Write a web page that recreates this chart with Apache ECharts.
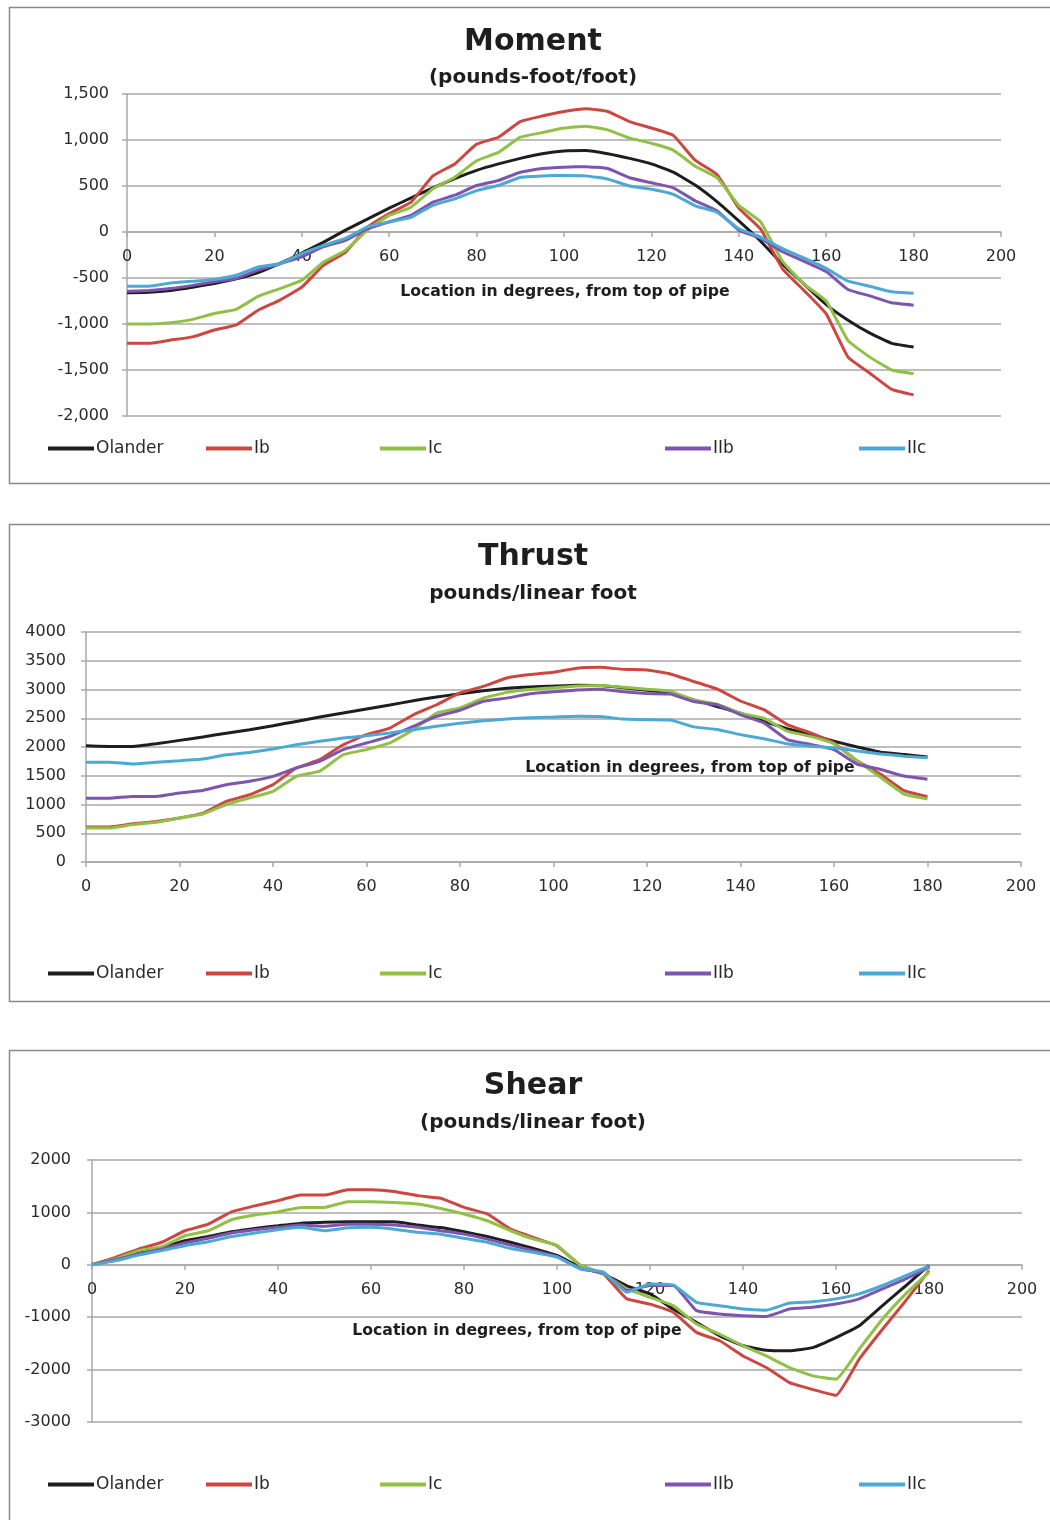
<!DOCTYPE html>
<html>
<head>
<meta charset="utf-8">
<script src="https://cdn.jsdelivr.net/npm/echarts@6/dist/echarts.min.js"></script>
<style>
  html, body { margin: 0; padding: 0; background: #ffffff; }
  #chart { width: 1050px; height: 1520px; }
</style>
</head>
<body>
<div id="chart"></div>
<script>
// Location around the pipe, degrees from the top
const degrees = [0, 5, 10, 15, 20, 25, 30, 35, 40, 45, 50, 55, 60, 65, 70, 75, 80, 85, 90,
                 95, 100, 105, 110, 115, 120, 125, 130, 135, 140, 145, 150, 155, 160, 165, 170, 175, 180];

const seriesNames = ['Olander', 'Ib', 'Ic', 'IIb', 'IIc'];
const xTicks = [0, 20, 40, 60, 80, 100, 120, 140, 160, 180, 200];

// Moment (pounds-foot/foot)
const momentOlander = [-660, -655, -635, -600, -560, -510, -440, -340, -230, -110, 20, 140, 260, 370, 480, 580, 670, 740, 800,
                       850, 880, 885, 850, 800, 740, 650, 510, 330, 120, -100, -350, -570, -790, -960, -1100, -1210, -1250];
const momentIb = [-1210, -1210, -1175, -1140, -1065, -1010, -850, -740, -600, -360, -220, 50, 200, 325, 610, 740, 955, 1030, 1200,
                  1260, 1310, 1340, 1310, 1200, 1130, 1050, 780, 625, 260, 30, -400, -640, -890, -1360, -1535, -1710, -1770];
const momentIc = [-1000, -1000, -985, -950, -885, -840, -700, -615, -525, -325, -200, 20, 180, 270, 470, 595, 775, 865, 1030,
                  1080, 1130, 1150, 1110, 1020, 965, 890, 715, 590, 290, 110, -320, -570, -750, -1180, -1360, -1500, -1540];
const momentIIb = [-645, -635, -615, -580, -540, -505, -415, -345, -270, -160, -90, 35, 110, 180, 325, 400, 505, 560, 650,
                   690, 705, 710, 690, 590, 535, 480, 340, 230, 20, -70, -215, -320, -430, -625, -695, -770, -795];
const momentIIc = [-590, -590, -555, -535, -515, -470, -380, -345, -235, -145, -70, 55, 110, 160, 290, 360, 450, 505, 595,
                   610, 615, 610, 575, 500, 465, 410, 285, 215, 35, -55, -180, -285, -395, -535, -590, -650, -665];
const momentTicks = [-2000, -1500, -1000, -500, 0, 500, 1000, 1500];

// Thrust (pounds/linear foot)
const thrustOlander = [2020, 2010, 2010, 2055, 2115, 2175, 2240, 2300, 2370, 2445, 2520, 2590, 2660, 2730, 2805, 2870, 2925, 2980, 3020,
                       3045, 3060, 3075, 3070, 3030, 2985, 2935, 2820, 2705, 2590, 2445, 2320, 2215, 2100, 2000, 1910, 1870, 1825];
const thrustIb = [610, 610, 665, 705, 765, 850, 1055, 1170, 1345, 1635, 1780, 2040, 2215, 2330, 2560, 2735, 2940, 3055, 3200,
                  3260, 3300, 3370, 3385, 3350, 3340, 3270, 3140, 3010, 2800, 2650, 2390, 2245, 2070, 1755, 1525, 1240, 1135];
const thrustIc = [590, 590, 650, 690, 765, 835, 1000, 1115, 1230, 1490, 1580, 1865, 1955, 2070, 2300, 2590, 2680, 2850, 2950,
                  3000, 3030, 3060, 3070, 3040, 3005, 2970, 2820, 2745, 2590, 2500, 2275, 2185, 2055, 1755, 1470, 1180, 1095];
const thrustIIb = [1110, 1110, 1140, 1140, 1200, 1245, 1345, 1405, 1490, 1635, 1750, 1955, 2070, 2185, 2360, 2535, 2640, 2795, 2850,
                   2925, 2960, 2990, 3005, 2960, 2930, 2920, 2790, 2735, 2560, 2420, 2130, 2045, 1955, 1700, 1610, 1495, 1440];
const thrustIIc = [1735, 1735, 1705, 1735, 1760, 1790, 1865, 1905, 1965, 2040, 2100, 2155, 2195, 2245, 2300, 2360, 2415, 2455, 2485,
                   2510, 2520, 2535, 2530, 2485, 2475, 2470, 2350, 2305, 2215, 2145, 2055, 2015, 1985, 1930, 1880, 1840, 1815];
const thrustTicks = [0, 500, 1000, 1500, 2000, 2500, 3000, 3500, 4000];

// Shear (pounds/linear foot)
const shearOlander = [0, 125, 250, 330, 460, 540, 630, 695, 745, 795, 810, 820, 820, 820, 760, 710, 630, 540, 430,
                      310, 180, -45, -175, -400, -555, -845, -1100, -1355, -1545, -1630, -1640, -1580, -1390, -1165, -780, -400, -10];
const shearIb = [0, 140, 300, 430, 650, 775, 1010, 1125, 1225, 1330, 1330, 1430, 1430, 1400, 1320, 1270, 1095, 970, 680,
                 520, 360, -10, -175, -650, -750, -905, -1290, -1450, -1740, -1960, -2250, -2380, -2490, -1800, -1230, -685, -110];
const shearIc = [0, 110, 270, 345, 555, 650, 860, 950, 1010, 1095, 1095, 1205, 1205, 1190, 1160, 1075, 970, 840, 650,
                 490, 370, -10, -175, -460, -620, -780, -1130, -1325, -1545, -1740, -1960, -2120, -2185, -1610, -1035, -555, -140];
const shearIIb = [0, 95, 205, 300, 415, 505, 605, 670, 715, 760, 735, 775, 775, 760, 715, 650, 585, 490, 375,
                  270, 160, -75, -155, -490, -395, -395, -875, -940, -970, -985, -845, -810, -750, -650, -460, -270, -45];
const shearIIc = [0, 75, 185, 270, 365, 440, 540, 605, 670, 715, 650, 705, 715, 680, 620, 585, 505, 430, 310,
                  235, 145, -75, -140, -525, -365, -385, -715, -780, -845, -865, -730, -705, -650, -555, -395, -205, -25];
const shearTicks = [-3000, -2000, -1000, 0, 1000, 2000];

const lineColors = ['#1e1e1e', '#cc4741', '#90c044', '#7e55ae', '#4ba9d3'];
const FONT = 'DejaVu Sans';
const GRID_GRAY = '#a9a9a9';

const panels = [
  {
    title: 'Moment', subtitle: '(pounds-foot/foot)',
    values: [momentOlander, momentIb, momentIc, momentIIb, momentIIc],
    ticks: momentTicks, thousands: true,
    box: { y: 5, h: 476 },
    grid: { left: 127, top: 94, width: 874, height: 322 },
    titleY: 42, subtitleY: 78, yLabelMargin: 18,
    axisTitle: { x: 565, y: 292 }, legendY: 445
  },
  {
    title: 'Thrust', subtitle: 'pounds/linear foot',
    values: [thrustOlander, thrustIb, thrustIc, thrustIIb, thrustIIc],
    ticks: thrustTicks, thousands: false,
    box: { y: 522, h: 477 },
    grid: { left: 86, top: 632, width: 935, height: 230 },
    titleY: 557, subtitleY: 594, yLabelMargin: 20,
    axisTitle: { x: 690, y: 768 }, legendY: 970
  },
  {
    title: 'Shear', subtitle: '(pounds/linear foot)',
    values: [shearOlander, shearIb, shearIc, shearIIb, shearIIc],
    ticks: shearTicks, thousands: false,
    box: { y: 1048, h: 600 },
    grid: { left: 92, top: 1160, width: 930, height: 262 },
    titleY: 1086, subtitleY: 1123, yLabelMargin: 21,
    axisTitle: { x: 517, y: 1331 }, legendY: 1481
  }
];

// horizontal placement of each legend entry (start of its line swatch)
const legendLeft = [43, 201, 375, 660, 854];

const grids = [], xAxes = [], yAxes = [], series = [], legends = [], graphics = [];

panels.forEach((p, gi) => {
  grids.push(Object.assign({ containLabel: false }, p.grid));

  // the degree axis crosses the value axis at zero: shift it up from the plot bottom
  const yMin = p.ticks[0], yMax = p.ticks[p.ticks.length - 1];
  const zeroShift = -p.grid.height * (0 - yMin) / (yMax - yMin);

  xAxes.push({
    type: 'value', gridIndex: gi, position: 'bottom', offset: zeroShift,
    min: xTicks[0], max: xTicks[xTicks.length - 1], interval: xTicks[1] - xTicks[0],
    axisLine: { onZero: false, lineStyle: { color: GRID_GRAY, width: 1.5 } },
    axisTick: { show: true, length: 5, lineStyle: { color: GRID_GRAY, width: 1.5 } },
    axisLabel: { color: '#2a2a2a', fontFamily: FONT, fontSize: 16, margin: 17 },
    splitLine: { show: false }
  });

  yAxes.push({
    type: 'value', gridIndex: gi,
    min: yMin, max: yMax, interval: p.ticks[1] - p.ticks[0],
    axisLine: { show: true, lineStyle: { color: GRID_GRAY, width: 1.5 } },
    axisTick: { show: true, length: 5, lineStyle: { color: GRID_GRAY, width: 1.5 } },
    axisLabel: {
      color: '#2a2a2a', fontFamily: FONT, fontSize: 16, margin: p.yLabelMargin,
      formatter: v => p.thousands ? v.toLocaleString('en-US') : String(v)
    },
    splitLine: { show: true, lineStyle: { color: GRID_GRAY, width: 1.5 } }
  });

  seriesNames.forEach((name, si) => {
    series.push({
      name: name, type: 'line',
      xAxisIndex: gi, yAxisIndex: gi,
      data: degrees.map((d, i) => [d, p.values[si][i]]),
      showSymbol: false, smooth: 0.12,
      lineStyle: { color: lineColors[si], width: 3 },
      itemStyle: { color: lineColors[si] },
      z: 3 + si
    });
    legends.push({
      data: [name], left: legendLeft[si], top: p.legendY - 10,
      icon: 'rect', itemWidth: 46, itemHeight: 4, selectedMode: false,
      textStyle: { color: '#2a2a2a', fontFamily: FONT, fontSize: 17, padding: [0, 0, 0, -3] }
    });
  });

  // panel frame
  graphics.push({
    type: 'rect', left: 7, top: p.box.y, z: 0, silent: true,
    shape: { x: 0, y: 0, width: 1100, height: p.box.h },
    style: { fill: 'none', stroke: '#8a8a8a', lineWidth: 1.5 }
  });
  // chart title and units
  graphics.push({
    type: 'text', x: 533, y: p.titleY, silent: true,
    style: { text: p.title, fill: '#1e1e1e', font: `bold 30px "${FONT}"`, textAlign: 'center', textVerticalAlign: 'middle' }
  });
  graphics.push({
    type: 'text', x: 533, y: p.subtitleY, silent: true,
    style: { text: p.subtitle, fill: '#1e1e1e', font: `bold 20px "${FONT}"`, textAlign: 'center', textVerticalAlign: 'middle' }
  });
  // horizontal axis title
  graphics.push({
    type: 'text', x: p.axisTitle.x, y: p.axisTitle.y, silent: true, z: 10,
    style: { text: 'Location in degrees, from top of pipe', fill: '#1e1e1e',
             font: `bold 15.7px "${FONT}"`, textAlign: 'center', textVerticalAlign: 'middle' }
  });
});

const chart = echarts.init(document.getElementById('chart'), null, { renderer: 'canvas' });
chart.setOption({
  backgroundColor: '#ffffff',
  animation: false,
  grid: grids,
  xAxis: xAxes,
  yAxis: yAxes,
  legend: legends,
  series: series,
  graphic: graphics
});
</script>
</body>
</html>
